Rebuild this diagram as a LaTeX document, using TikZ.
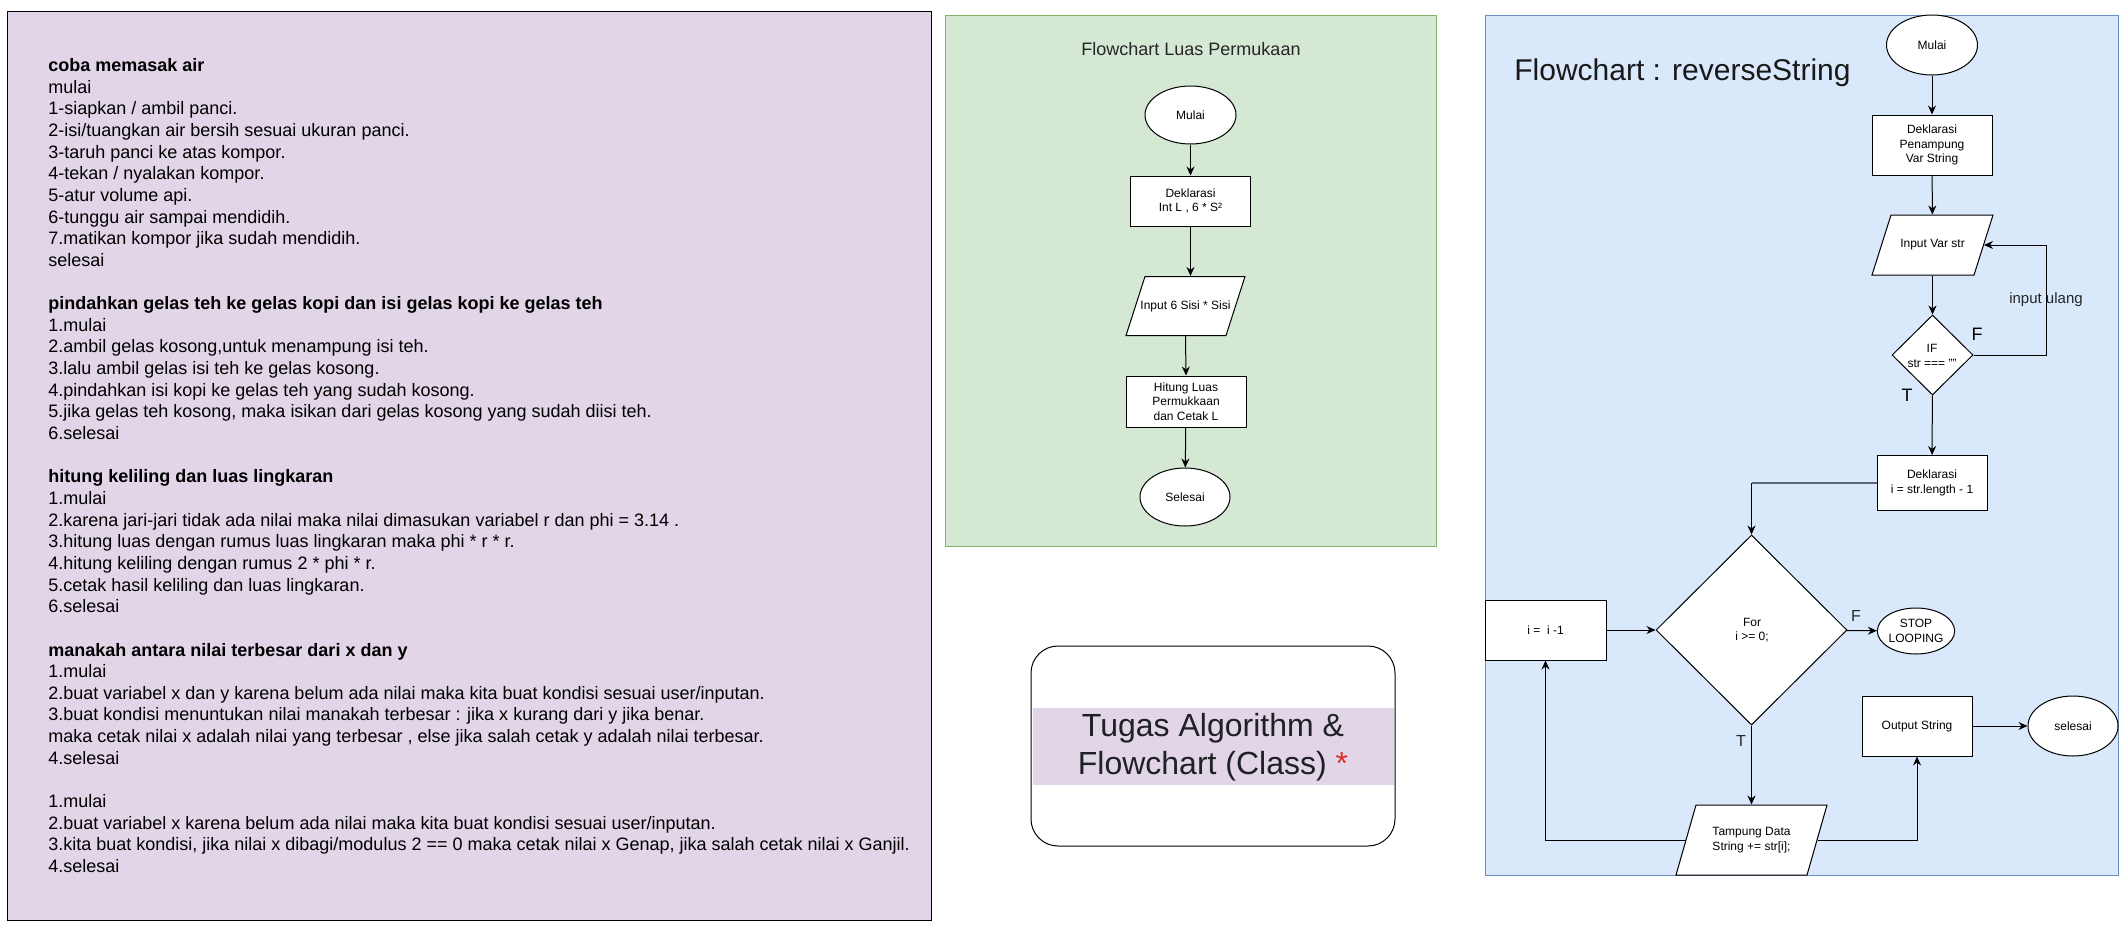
\documentclass[tikz,border=0pt]{standalone}
\usepackage{fontspec}
\setmainfont{Liberation Sans}
\usetikzlibrary{shapes.geometric,arrows.meta}
\definecolor{purplebg}{HTML}{E1D5E7}
\definecolor{greenbg}{HTML}{D5E8D4}
\definecolor{greenbd}{HTML}{82B366}
\definecolor{bluebg}{HTML}{DAE8FC}
\definecolor{bluebd}{HTML}{6C8EBF}
\definecolor{txtdark}{HTML}{202124}
\definecolor{starred}{HTML}{D93025}
\definecolor{edgegray}{HTML}{5F6773}
% parallelogram outline: centre x, centre y, slice width, height, slant offset (all in px)
\newcommand{\mypara}[5]{\filldraw[fill=white, draw=black, line width=0.5pt]
  ({#1-#3/2+#5/2},{#2-#4/2}) -- ({#1+#3/2+#5/2},{#2-#4/2}) --
  ({#1+#3/2-#5/2},{#2+#4/2}) -- ({#1-#3/2-#5/2},{#2+#4/2}) -- cycle;}
\begin{document}
\begin{tikzpicture}[x=0.5pt,y=-0.5pt,
  fc/.style={draw=black, fill=white, line width=0.5pt, font=\fontsize{6}{7.25}\selectfont, align=center, inner sep=0pt},
  procbox/.style={fc, rectangle},
  term/.style={fc, ellipse},
  io/.style={fc, rectangle, draw=none, fill=none},
  dec/.style={fc, diamond},
  arr/.style={-{Stealth[length=4.5pt,width=4pt]}, line width=0.5pt},
  lblbig/.style={font=\fontsize{9}{10}\selectfont, inner sep=0pt},
  lblmid/.style={font=\fontsize{8}{9}\selectfont, inner sep=0pt, text=black!85},
  panel/.style={line width=0.5pt}
]
\useasboundingbox (0,0) rectangle (2122,932);
\fill[white] (0,0) rectangle (2122,932);

% ---------- left text panel ----------
\draw[panel, fill=purplebg, draw=black] (7,11) rectangle (931,920);
\node[anchor=north west, align=left, inner sep=0pt, font=\fontsize{9}{10.825}\selectfont] (lefttext) at (48,58) {%
\textbf{coba memasak air}\\
mulai\\
1-siapkan / ambil panci.\\
2-isi/tuangkan air bersih sesuai ukuran panci.\\
3-taruh panci ke atas kompor.\\
4-tekan / nyalakan kompor.\\
5-atur volume api.\\
6-tunggu air sampai mendidih.\\
7.matikan kompor jika sudah mendidih.\\
selesai\\[10.825pt]
\textbf{pindahkan gelas teh ke gelas kopi dan isi gelas kopi ke gelas teh}\\
1.mulai\\
2.ambil gelas kosong,untuk menampung isi teh.\\
3.lalu ambil gelas isi teh ke gelas kosong.\\
4.pindahkan isi kopi ke gelas teh yang sudah kosong.\\
5.jika gelas teh kosong, maka isikan dari gelas kosong yang sudah diisi teh.\\
6.selesai\\[10.825pt]
\textbf{hitung keliling dan luas lingkaran}\\
1.mulai\\
2.karena jari-jari tidak ada nilai maka nilai dimasukan variabel r dan phi = 3.14 .\\
3.hitung luas dengan rumus luas lingkaran maka phi * r * r.\\
4.hitung keliling dengan rumus 2 * phi * r.\\
5.cetak hasil keliling dan luas lingkaran.\\
6.selesai\\[10.825pt]
\textbf{manakah antara nilai terbesar dari x dan y}\\
1.mulai\\
2.buat variabel x dan y karena belum ada nilai maka kita buat kondisi sesuai user/inputan.\\
3.buat kondisi menuntukan nilai manakah terbesar : jika x kurang dari y jika benar.\\
maka cetak nilai x adalah nilai yang terbesar , else jika salah cetak y adalah nilai terbesar.\\
4.selesai\\[10.825pt]
1.mulai\\
2.buat variabel x karena belum ada nilai maka kita buat kondisi sesuai user/inputan.\\
3.kita buat kondisi, jika nilai x dibagi/modulus 2 == 0 maka cetak nilai x Genap, jika salah cetak nilai x Ganjil.\\
4.selesai};

% ---------- green panel ----------
\draw[panel, fill=greenbg, draw=greenbd] (945,15) rectangle (1436,546);
\node[anchor=base, inner sep=0pt, font=\fontsize{9}{10}\selectfont, text=black!85] (gtitle) at (1191,55) {Flowchart Luas Permukaan};
\node[term, minimum width=45.5pt, minimum height=29pt] (gm) at (1190.5,115) {Mulai};
\node[procbox, minimum width=60pt, minimum height=25pt] (gd) at (1190.5,201) {Deklarasi\\Int L , 6 * S²};
\mypara{1185.5}{306}{100}{59}{19}
\node[io, minimum width=50pt, minimum height=29.5pt] (gi) at (1185.5,306) {Input 6 Sisi * Sisi};
\node[procbox, minimum width=60pt, minimum height=25.5pt] (gh) at (1186,401.5) {Hitung Luas\\Permukkaan\\dan Cetak L};
\node[term, minimum width=45pt, minimum height=29pt] (gs) at (1185,497) {Selesai};
\draw[arr] (gm) -- (gd);
\draw[arr] (gd.south) -- (gd.south |- gi.north);
\draw[arr] (gi.south) -- (gh.north);
\draw[arr] (gh) -- (gs);

% ---------- title box ----------
\node[draw=black, fill=white, line width=0.5pt, rounded corners=13.5pt, minimum width=182pt, minimum height=100pt, inner sep=0pt] (tbox) at (1213,746) {};
\fill[purplebg] (1032.5,708) rectangle (1393.5,785);
\node[font=\fontsize{16}{19}\selectfont, text=txtdark, align=center, inner sep=0pt] (ttext) at (1213,747) {Tugas Algorithm \&\\Flowchart (Class) \textcolor{starred}{*}};

% ---------- blue panel ----------
\draw[panel, fill=bluebg, draw=bluebd] (1485,15) rectangle (2118,875);
\node[anchor=base west, inner sep=0pt, font=\fontsize{15}{18}\selectfont, text=black!90] (btitle) at (1514,80) {Flowchart : reverseString};
\node[term, minimum width=45.5pt, minimum height=30pt] (bm) at (1932,45) {Mulai};
\node[procbox, minimum width=60pt, minimum height=30pt] (bd) at (1932,145) {Deklarasi\\Penampung\\Var String};
\mypara{1932.5}{245}{102}{60}{19}
\node[io, minimum width=51pt, minimum height=30pt] (bi) at (1932.5,245) {Input Var str};
\node[dec, minimum width=40.5pt, minimum height=40pt] (bif) at (1932.5,355) {};
\node[font=\fontsize{6}{7.25}\selectfont, align=center, inner sep=0pt] (biftext) at (1932,356) {IF\\str === ""};
\node[procbox, minimum width=55pt, minimum height=27.5pt] (bdi) at (1932,483) {Deklarasi\\i = str.length - 1};
\node[dec, minimum width=95.5pt, minimum height=95pt] (bfor) at (1751.5,630) {};
\node[font=\fontsize{6}{7.25}\selectfont, align=center, inner sep=0pt] (bfortext) at (1752,630) {For\\i >= 0;};
\node[procbox, minimum width=60.5pt, minimum height=30pt] (bdec) at (1545.5,630) {i = \ i -1};
\node[term, minimum width=38pt, minimum height=23pt] (bstop) at (1916,631) {STOP\\LOOPING};
\node[procbox, minimum width=55pt, minimum height=30pt] (bout) at (1917,726) {Output String};
\node[term, minimum width=45pt, minimum height=30pt] (bsel) at (2073,726) {selesai};
\mypara{1751.5}{840}{131}{70}{20}
\node[io, minimum width=65.5pt, minimum height=35pt] (btam) at (1751.5,840) {Tampung Data\\String += str[i];};
\coordinate (loopc) at (2046,300);

\draw[arr] (bm) -- (bd);
\draw[arr] (bd) -- (bi);
\draw[arr] (bi) -- (bif);
\draw[arr] (bif.east) -| (loopc) |- (bi.east);
\node[font=\fontsize{7.5}{9}\selectfont, inner sep=0pt, text=black!85] (ulang) at (loopc) {input ulang};
\draw[arr] (bif) -- (bdi);
\draw[arr] (bdi.west) -| (bfor.north);
\draw[edgegray, line width=1.1pt] (bdi.west) -- (bdi.west -| bfor.north);
\draw[arr] (bdec) -- (bfor);
\draw[arr] (bfor) -- (bstop);
\draw[arr] (bfor) -- (btam);
\draw[arr] (btam.west) -| (bdec.south);
\draw[arr] (btam.east) -| (bout.south);
\draw[arr] (bout) -- (bsel);

\node[lblbig] (lf1) at (1977,334) {F};
\node[lblbig] (lt1) at (1907,395) {T};
\node[lblmid] (lf2) at (1856,616) {F};
\node[lblmid] (lt2) at (1741,741) {T};
\end{tikzpicture}
\end{document}
